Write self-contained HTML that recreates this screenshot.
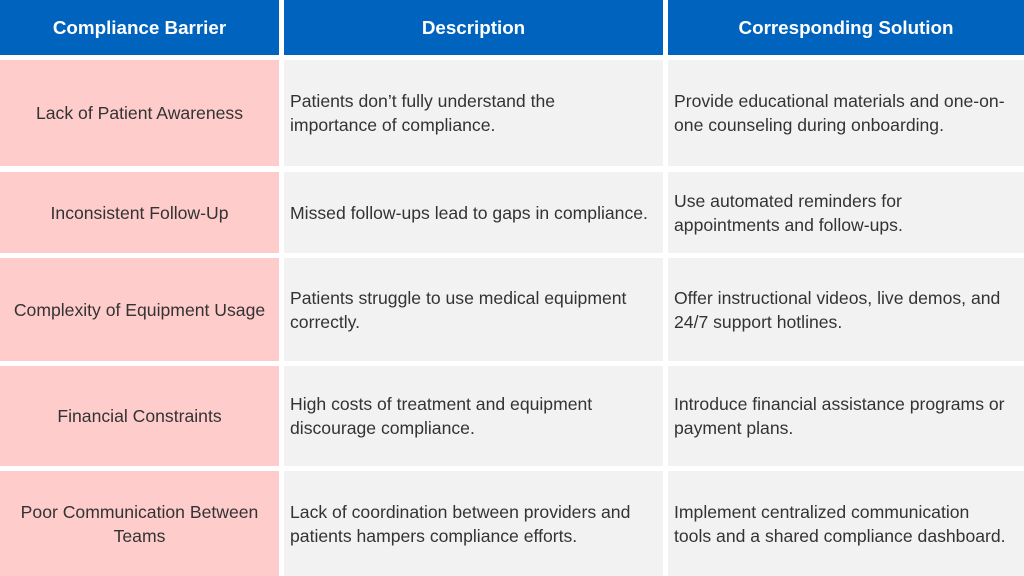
<!DOCTYPE html>
<html><head><meta charset="utf-8"><style>
body{margin:0;width:1024px;height:576px;background:#fff;position:relative;overflow:hidden;font-family:"Liberation Sans","DejaVu Sans",sans-serif;}
.c{position:absolute;display:flex;align-items:center;box-sizing:border-box;font-size:17.6px;line-height:24px;color:#333;white-space:nowrap;}
.h{background:#0063be;color:#fff;font-weight:bold;font-size:18.8px;justify-content:center;text-align:center;}
.p{background:#ffcccc;justify-content:center;text-align:center;padding:0 4px;}
.g{background:#f2f2f2;padding:0 6px;}
</style></head><body>
<div class="c h" style="left:0;top:0;width:279px;height:55px">Compliance Barrier</div>
<div class="c h" style="left:284px;top:0;width:379px;height:55px">Description</div>
<div class="c h" style="left:668px;top:0;width:356px;height:55px">Corresponding Solution</div>

<div class="c p" style="left:0;top:60px;width:279px;height:106px">Lack of Patient Awareness</div>
<div class="c g" style="left:284px;top:60px;width:379px;height:106px">Patients don’t fully understand the<br>importance of compliance.</div>
<div class="c g" style="left:668px;top:60px;width:356px;height:106px">Provide educational materials and one-on-<br>one counseling during onboarding.</div>

<div class="c p" style="left:0;top:172px;width:279px;height:81px">Inconsistent Follow-Up</div>
<div class="c g" style="left:284px;top:172px;width:379px;height:81px">Missed follow-ups lead to gaps in compliance.</div>
<div class="c g" style="left:668px;top:172px;width:356px;height:81px">Use automated reminders for<br>appointments and follow-ups.</div>

<div class="c p" style="left:0;top:258px;width:279px;height:103px">Complexity of Equipment Usage</div>
<div class="c g" style="left:284px;top:258px;width:379px;height:103px">Patients struggle to use medical equipment<br>correctly.</div>
<div class="c g" style="left:668px;top:258px;width:356px;height:103px">Offer instructional videos, live demos, and<br>24/7 support hotlines.</div>

<div class="c p" style="left:0;top:366px;width:279px;height:100px">Financial Constraints</div>
<div class="c g" style="left:284px;top:366px;width:379px;height:100px">High costs of treatment and equipment<br>discourage compliance.</div>
<div class="c g" style="left:668px;top:366px;width:356px;height:100px">Introduce financial assistance programs or<br>payment plans.</div>

<div class="c p" style="left:0;top:471px;width:279px;height:105px">Poor Communication Between<br>Teams</div>
<div class="c g" style="left:284px;top:471px;width:379px;height:105px">Lack of coordination between providers and<br>patients hampers compliance efforts.</div>
<div class="c g" style="left:668px;top:471px;width:356px;height:105px">Implement centralized communication<br>tools and a shared compliance dashboard.</div>
</body></html>
